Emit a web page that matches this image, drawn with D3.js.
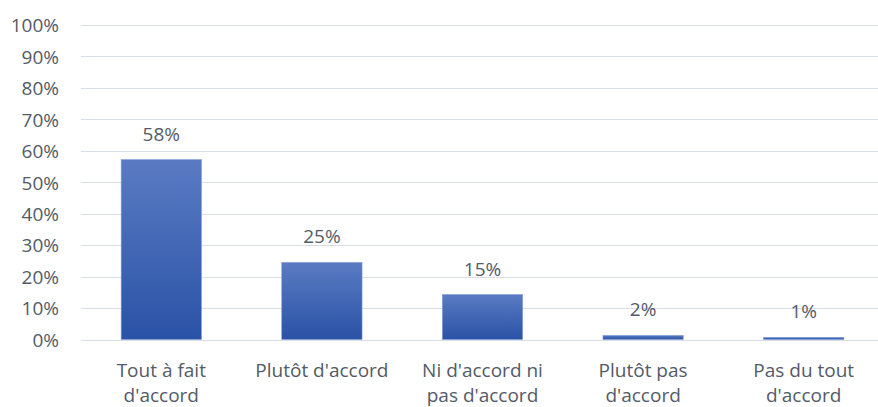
<!DOCTYPE html>
<html>
<head>
<meta charset="utf-8">
<script src="https://cdn.jsdelivr.net/npm/d3@7"></script>
<style>
  body { margin: 0; background: #fff; }
  svg text { font-family: "Open Sans", sans-serif; fill: #535b67; }
</style>
</head>
<body>
<div id="chart"></div>
<script>
// donnees
const categories = [["Tout à fait", "d'accord"], ["Plutôt d'accord"], ["Ni d'accord ni", "pas d'accord"], ["Plutôt pas", "d'accord"], ["Pas du tout", "d'accord"]]
const values = [57.2, 24.5, 14.3, 1.3, 0.7]
const valueLabels = ["58%", "25%", "15%", "2%", "1%"]
const yTicks = [0, 10, 20, 30, 40, 50, 60, 70, 80, 90, 100]

const width = 878, height = 407
const fontSize = 19

const svg = d3.select('#chart').append('svg')
    .attr('width', width)
    .attr('height', height)

const defs = svg.append('defs')
const grad = defs.append('linearGradient')
    .attr('id', 'barGrad')
    .attr('x1', 0).attr('y1', 0).attr('x2', 0).attr('y2', 1)
grad.append('stop').attr('offset', '0%').attr('stop-color', '#5a7bc3')
grad.append('stop').attr('offset', '100%').attr('stop-color', '#2a52a6')

const x = d3.scaleBand()
    .domain(d3.range(categories.length))
    .range([81, 884])
    .paddingInner(0.5)
    .paddingOuter(0.25)

const y = d3.scaleLinear()
    .domain([0, 100])
    .range([339.5, 25])

// grille horizontale
svg.append('g')
    .selectAll('line')
    .data(yTicks)
    .enter()
    .append('line')
    .attr('x1', 81)
    .attr('x2', width)
    .attr('y1', d => Math.round(y(d)) + 0.5)
    .attr('y2', d => Math.round(y(d)) + 0.5)
    .attr('stroke', '#d9dde6')
    .attr('stroke-width', 1)

// axe Y (labels seulement)
const yAxis = d3.axisLeft(y)
    .tickValues(yTicks)
    .tickFormat(d => d + '%')
    .tickSize(0)
    .tickPadding(0)
const gy = svg.append('g')
    .attr('transform', 'translate(59,0)')
    .call(yAxis)
gy.select('.domain').remove()
gy.selectAll('text')
    .attr('font-size', fontSize)
    .attr('font-family', '"Open Sans", sans-serif')
    .attr('dy', '0.36em')
    .style('fill', '#535b67')

// barres
svg.append('g')
    .selectAll('rect')
    .data(values)
    .enter()
    .append('rect')
    .attr('x', (d, i) => x(i))
    .attr('y', d => y(d))
    .attr('width', x.bandwidth())
    .attr('height', d => y(0) - y(d))
    .attr('fill', 'url(#barGrad)')
    .attr('stroke', '#7f9bd6')
    .attr('stroke-width', 0.6)

// etiquettes de valeur
svg.append('g')
    .selectAll('text')
    .data(values)
    .enter()
    .append('text')
    .attr('x', (d, i) => x(i) + x.bandwidth() / 2)
    .attr('y', d => y(d) - 19)
    .attr('text-anchor', 'middle')
    .attr('font-size', fontSize)
    .text((d, i) => valueLabels[i])

// categories
const catG = svg.append('g')
    .selectAll('text')
    .data(categories)
    .enter()
    .append('text')
    .attr('x', (d, i) => x(i) + x.bandwidth() / 2)
    .attr('y', 377)
    .attr('text-anchor', 'middle')
    .attr('font-size', fontSize)
catG.selectAll('tspan')
    .data(d => d)
    .enter()
    .append('tspan')
    .attr('x', function () { return d3.select(this.parentNode).attr('x') })
    .attr('dy', (d, i) => i === 0 ? 0 : 25)
    .text(d => d)
</script>
</body>
</html>
